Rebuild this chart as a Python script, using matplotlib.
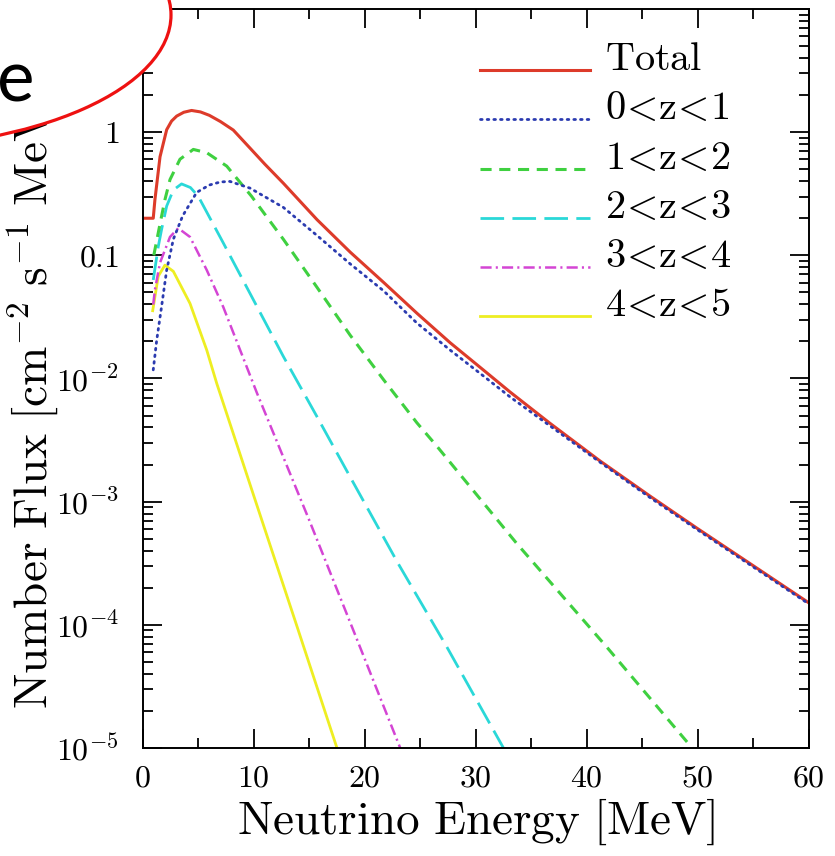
import matplotlib
matplotlib.use("Agg")
import matplotlib.pyplot as plt
from matplotlib.patches import Ellipse

plt.rcParams["mathtext.fontset"] = "cm"
plt.rcParams["font.family"] = "serif"
plt.rcParams["font.serif"] = ["cmr10", "DejaVu Serif"]
plt.rcParams["axes.formatter.use_mathtext"] = True
plt.rcParams["lines.scale_dashes"] = False

# values (energy in MeV, flux in cm^-2 s^-1 MeV^-1)
e_total = [0.0, 0.95, 1.1, 1.56, 2.16, 2.6, 3.06, 3.7, 4.4, 5.2, 6.0, 7.0, 8.16, 9.68, 11.0,
           12.67, 15.7, 18.7, 21.7, 24.7, 27.7, 30.7, 33.1, 36.7, 41.2, 45.7, 50.0, 55.0, 60.0]
f_total = [0.200, 0.200, 0.282, 0.631, 1.047, 1.23, 1.35, 1.45, 1.50, 1.46, 1.37, 1.22, 1.04,
           0.74, 0.55, 0.385, 0.195, 0.106, 0.0603, 0.0339, 0.0195, 0.0117, 0.00776, 0.00432,
           0.00214, 0.00111, 6.03e-4, 3.02e-4, 1.51e-4]

e_z01 = [0.95, 1.26, 1.71, 2.16, 2.76, 3.6, 4.86, 6.0, 7.0, 7.86, 9.67, 12.67, 15.7, 18.7,
         21.7, 24.7, 27.7, 30.7, 33.1, 36.7, 41.2, 45.7, 50.0, 55.0, 60.0]
f_z01 = [0.01175, 0.0204, 0.0389, 0.0759, 0.135, 0.209, 0.324, 0.372, 0.394, 0.398, 0.351,
         0.245, 0.145, 0.0851, 0.0515, 0.0282, 0.0170, 0.01047, 0.00708, 0.00412, 0.00209,
         0.00108, 5.89e-4, 2.95e-4, 1.48e-4]

e_z12 = [1.0, 1.55, 2.0, 2.46, 3.36, 4.56, 5.77, 7.57, 9.8, 12.67, 15.7, 18.7, 21.7, 24.7,
         26.5, 33.7, 41.8, 49.5]
f_z12 = [0.100, 0.178, 0.282, 0.412, 0.603, 0.724, 0.681, 0.530, 0.302, 0.135, 0.0550,
         0.0224, 0.00977, 0.00437, 0.00282, 4.57e-4, 6.61e-5, 1.0e-5]

e_z23 = [0.95, 1.4, 1.7, 2.16, 2.76, 3.5, 4.3, 5.0, 7.26, 9.67, 12.67, 15.7, 18.7, 23.0, 27.4, 32.5]
f_z23 = [0.0631, 0.1175, 0.162, 0.251, 0.339, 0.380, 0.355, 0.302, 0.126, 0.0490, 0.0151,
         0.0049, 0.00158, 3.16e-4, 6.61e-5, 1.0e-5]

e_z34 = [0.95, 1.1, 1.56, 2.46, 3.2, 4.26, 5.77, 7.26, 10.3, 15.0, 19.0, 23.2]
f_z34 = [0.0398, 0.0525, 0.0871, 0.141, 0.166, 0.141, 0.0759, 0.0380, 0.00759, 7.08e-4,
         8.91e-5, 1.0e-5]

e_z45 = [0.9, 1.4, 2.0, 2.76, 4.26, 5.77, 6.67, 10.0, 14.0, 17.5]
f_z45 = [0.0355, 0.0676, 0.0832, 0.0741, 0.0407, 0.0170, 0.00912, 0.00112, 9.12e-5, 1.0e-5]

# \! cancels the space mathtext puts round "<"
labels = [r"$\mathrm{Total}$", r"$0\!<\!\mathrm{z}\!<\!1$", r"$1\!<\!\mathrm{z}\!<\!2$",
          r"$2\!<\!\mathrm{z}\!<\!3$", r"$3\!<\!\mathrm{z}\!<\!4$", r"$4\!<\!\mathrm{z}\!<\!5$"]
y_ticks = [1e-5, 1e-4, 1e-3, 1e-2, 0.1, 1, 10]
y_ticklabels = [r"$10^{-5}$", r"$10^{-4}$", r"$10^{-3}$", r"$10^{-2}$", r"$0.1$", r"$1$", r"$10$"]
x_ticks = [0, 10, 20, 30, 40, 50, 60]

fig = plt.figure(figsize=(8.35, 8.56), dpi=100)
ax = fig.add_axes([0.1709, 0.1262, 0.7976, 0.8633])

styles = [
    dict(color="#dd3b2a", lw=2.2, ls="-"),
    dict(color="#2b3bb0", lw=2.0, dashes=(1.2, 3.6), dash_capstyle="round"),
    dict(color="#3fd040", lw=2.2, dashes=(8, 5.5)),
    dict(color="#2ad8d8", lw=2.0, dashes=(17, 6)),
    dict(color="#d445d4", lw=1.8, dashes=(8, 3, 1.5, 3)),
    dict(color="#eeee22", lw=2.0, ls="-"),
]
series = [(e_total, f_total), (e_z01, f_z01), (e_z12, f_z12),
          (e_z23, f_z23), (e_z34, f_z34), (e_z45, f_z45)]

# components first, total and 0<z<1 on top
for i in [5, 4, 3, 2, 0, 1]:
    e, f = series[i]
    ax.plot(e, f, **styles[i])

ax.set_yscale("log")
ax.set_xlim(0, 60)
ax.set_ylim(1e-5, 10)
ax.set_xticks(x_ticks)
ax.set_xticks(range(5, 60, 10), minor=True)
ax.set_xticklabels([r"$%d$" % v for v in x_ticks])
ax.set_yticks(y_ticks)
ax.set_yticklabels(y_ticklabels)

for s in ax.spines.values():
    s.set_linewidth(1.4)
ax.tick_params(which="both", direction="in", top=True, right=True, width=1.3, labelsize=23)
ax.tick_params(axis="x", pad=12)
ax.tick_params(axis="y", pad=17)
ax.tick_params(which="major", length=14)
ax.tick_params(which="minor", length=7)

ax.set_xlabel(r"$\mathrm{Neutrino\ Energy\ [MeV]}$", fontsize=34)
ax.set_ylabel(r"$\mathrm{Number\ Flux\ [cm^{-2}\ s^{-1}\ MeV^{-1}]}$", fontsize=34)
ax.xaxis.set_label_coords(0.5, -0.066)
ax.yaxis.set_label_coords(-0.123, 0.5)

# legend drawn by hand: sample line sits on the text baseline
for k, (lab, st) in enumerate(zip(labels, styles)):
    yk = 0.917 - k * 0.0665
    ax.plot([0.506, 0.672], [yk, yk], transform=ax.transAxes, clip_on=False, **st)
    ax.text(0.694, yk, lab, transform=ax.transAxes, fontsize=29, ha="left", va="baseline")

# slide annotation on top: red ellipse with white fill and a big letter
over = fig.add_axes([0, 0, 1, 1], zorder=10)
over.set_xlim(0, 835)
over.set_ylim(856, 0)
over.axis("off")
over.patch.set_visible(False)
over.add_patch(Ellipse((-129, 15), 600, 266, fc="white", ec="#ee1111", lw=2.3))
over.text(35, 101, "e", ha="right", va="baseline", fontsize=51, family="Lato", color="black")

fig.savefig("out.png", dpi=100)
